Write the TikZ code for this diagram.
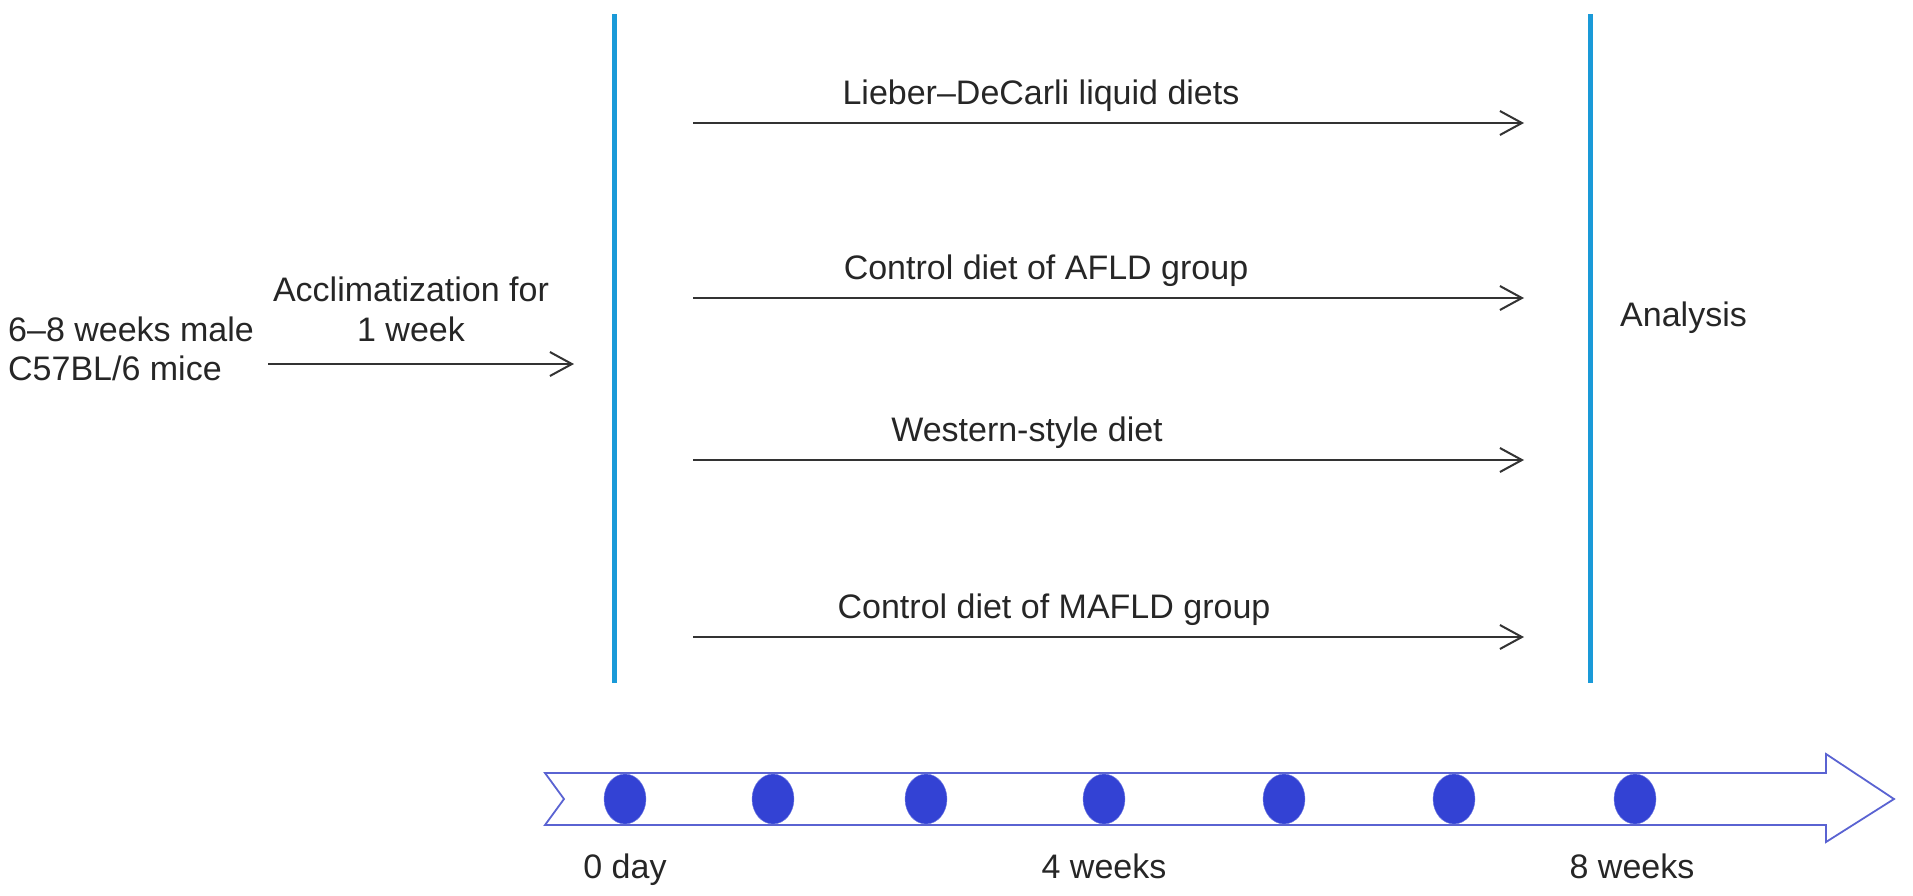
\documentclass[tikz,border=0pt]{standalone}
\usepackage{fontspec}
\setmainfont{Liberation Sans}
\usetikzlibrary{arrows.meta,shapes.geometric}
\definecolor{vline}{HTML}{1A9AD8}
\definecolor{dotblue}{HTML}{3342D4}
\definecolor{tlblue}{HTML}{5A63D2}
\begin{document}
\begin{tikzpicture}[x=1pt,y=-1pt,
  lbl/.style={font=\fontsize{34}{40}\selectfont, inner sep=0pt, text=black!85, anchor=base},
  diet/.style={draw=black!80, line width=2pt, -{Straight Barb[length=22pt,width=24pt,line width=2pt]}},
  phase/.style={draw=vline, line width=5pt},
  dot/.style={ellipse, fill=dotblue, draw=dotblue!70, minimum width=42pt, minimum height=50pt, inner sep=0pt}]
\useasboundingbox (0,0) rectangle (1913,895);
% vertical phase lines
\coordinate (L1) at (614,14); \coordinate (L2) at (614,683);
\coordinate (R1) at (1590,14); \coordinate (R2) at (1590,683);
\draw[phase] (L1) -- (L2);
\draw[phase] (R1) -- (R2);
% left text
\node[lbl, anchor=base west] (mice1) at (8,341) {6–8 weeks male};
\node[lbl, anchor=base west] (mice2) at (8,380) {C57BL/6 mice};
\node[lbl] (acc1) at (411,301) {Acclimatization for};
\node[lbl] (acc2) at (411,341) {1 week};
\coordinate (a0) at (268,364); \coordinate (a1) at (574,364);
\draw[diet] (a0) -- (a1);
% diet arrows
\foreach \i/\y/\t/\cx in {1/123/Lieber–DeCarli liquid diets/1041, 2/298/Control diet of AFLD group/1046, 3/460/Western-style diet/1027, 4/637/Control diet of MAFLD group/1054}{
  \coordinate (s\i) at (693,\y);
  \coordinate (e\i) at (1524,\y);
  \draw[diet] (s\i) -- (e\i);
  \node[lbl] (d\i) at (\cx,\y-19) {\t};
}
\node[lbl, anchor=base west] (analysis) at (1620,326) {Analysis};
% timeline arrow
\draw[tlblue, line width=1.8pt, line join=miter]
  (545,773) -- (1826,773) -- (1826,754) -- (1894,799) -- (1826,842) -- (1826,825) -- (545,825) -- (564,799) -- cycle;
\foreach \n/\x in {1/625,2/773,3/926,4/1104,5/1284,6/1454,7/1635}{
  \node[dot] (t\n) at (\x,799) {};
}
\node[lbl] (w0) at (625,878) {0 day};
\node[lbl] (w4) at (1104,878) {4 weeks};
\node[lbl] (w8) at (1632,878) {8 weeks};
\end{tikzpicture}
\end{document}
